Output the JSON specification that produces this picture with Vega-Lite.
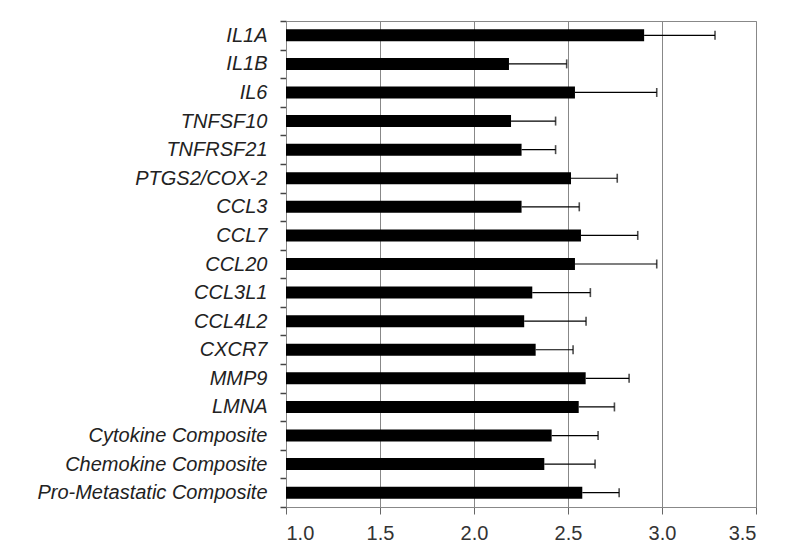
{
  "$schema": "https://vega.github.io/schema/vega-lite/v6.json",
  "autosize": "none",
  "width": 470,
  "height": 486,
  "padding": {"left": 286, "top": 21, "right": 44, "bottom": 51},
  "background": "white",
  "data": {
    "values": [
      {"gene": "IL1A", "mean": 2.905, "upper": 3.282},
      {"gene": "IL1B", "mean": 2.186, "upper": 2.493},
      {"gene": "IL6", "mean": 2.537, "upper": 2.972},
      {"gene": "TNFSF10", "mean": 2.197, "upper": 2.434},
      {"gene": "TNFRSF21", "mean": 2.253, "upper": 2.434},
      {"gene": "PTGS2/COX-2", "mean": 2.516, "upper": 2.762},
      {"gene": "CCL3", "mean": 2.253, "upper": 2.56},
      {"gene": "CCL7", "mean": 2.569, "upper": 2.871},
      {"gene": "CCL20", "mean": 2.537, "upper": 2.972},
      {"gene": "CCL3L1", "mean": 2.31, "upper": 2.619},
      {"gene": "CCL4L2", "mean": 2.267, "upper": 2.596},
      {"gene": "CXCR7", "mean": 2.328, "upper": 2.527},
      {"gene": "MMP9", "mean": 2.594, "upper": 2.825},
      {"gene": "LMNA", "mean": 2.557, "upper": 2.747},
      {"gene": "Cytokine Composite", "mean": 2.413, "upper": 2.66},
      {"gene": "Chemokine Composite", "mean": 2.374, "upper": 2.644},
      {"gene": "Pro-Metastatic Composite", "mean": 2.576, "upper": 2.772}
    ]
  },
  "encoding": {
    "y": {
      "field": "gene",
      "type": "nominal",
      "sort": null,
      "title": null,
      "scale": {"paddingInner": 0, "paddingOuter": 0},
      "axis": {
        "ticks": true,
        "tickBand": "extent",
        "labelFont": "Liberation Sans",
        "labelFontStyle": "italic",
        "labelFontSize": 20,
        "labelColor": "#222222",
        "labelPadding": 13,
        "tickSize": 6,
        "tickWidth": 1.5,
        "tickColor": "#444444",
        "tickOpacity": 1,
        "domainColor": "#888888",
        "labelLimit": 400
      }
    }
  },
  "layer": [
    {
      "mark": {"type": "bar", "color": "black", "height": {"band": 0.42}},
      "encoding": {
        "x": {
          "field": "mean",
          "type": "quantitative",
          "title": null,
          "scale": {"domain": [1, 3.5], "zero": false, "nice": false},
          "axis": {
            "values": [1, 1.5, 2, 2.5, 3, 3.5],
            "format": ".1f",
            "grid": true,
            "gridColor": "#888888",
            "gridOpacity": 1,
            "labelFont": "Liberation Sans",
            "labelFontSize": 20,
            "labelColor": "#333333",
            "labelPadding": 9,
            "tickSize": 7,
            "tickColor": "#666666",
            "domainColor": "#888888"
          }
        },
        "x2": {"datum": 1}
      }
    },
    {
      "mark": {"type": "rule", "color": "black", "strokeWidth": 1.2},
      "encoding": {
        "x": {"field": "mean", "type": "quantitative"},
        "x2": {"field": "upper"}
      }
    },
    {
      "mark": {"type": "tick", "color": "black", "orient": "vertical", "size": 9, "thickness": 1.6},
      "encoding": {
        "x": {"field": "upper", "type": "quantitative"}
      }
    }
  ],
  "config": {
    "view": {"stroke": "#888888", "strokeWidth": 1},
    "axisY": {"ticks": true, "tickSize": 6, "tickColor": "#444444", "tickWidth": 1.5},
    "axisBand": {"ticks": true}
  }
}
